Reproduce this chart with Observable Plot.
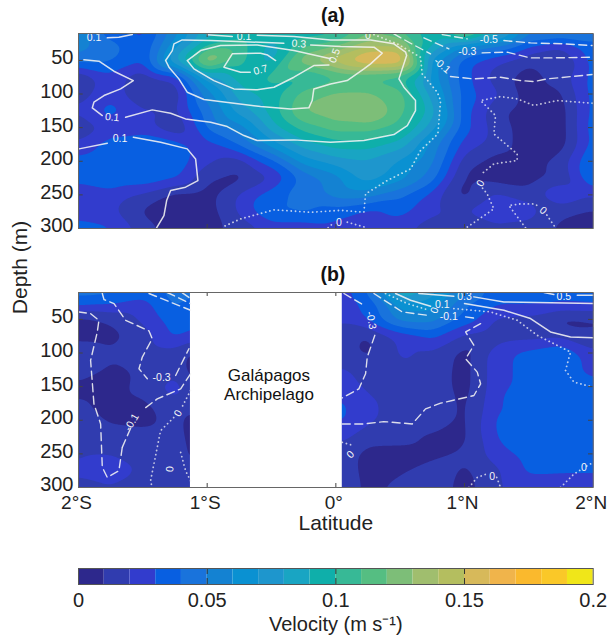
<!DOCTYPE html>
<html>
<head>
<meta charset="utf-8">
<script src="https://cdn.jsdelivr.net/npm/d3@7"></script>
<script src="https://cdn.jsdelivr.net/npm/@observablehq/plot@0.6"></script>
<style>
html,body{margin:0;padding:0;background:#fff;width:607px;overflow:hidden}
svg{display:block;font-family:"Liberation Sans",Arial,sans-serif}
</style>
</head>
<body>
<div id="chart"></div>
<script>
const depths = [10,25,50,75,100,125,150,175,200,225,250,275,300];
const latsA = [-2,-1.75,-1.5,-1.25,-1,-.75,-.5,-.25,0,.25,.5,.75,1,1.25,1.5,1.75,2];
const latsB = [-2,-1.75,-1.5,-1.25,-1.13,.05,.25,.5,.75,1,1.25,1.5,1.75,2];
const latTicks = [-2,-1,0,1,2];
const latLabels = ["2°S","1°S","0°","1°N","2°N"];
const depthTicks = [50,100,150,200,250,300];
const speedTicks = [0,.05,.1,.15,.2];
const gapB = [{x1:-1.13,x2:.05,y1:10,y2:300}];

const speedA = [
[.055,.032,.025,.055,.085,.095,.095,.095,.095,.115,.105,.095,.135,.095,.055,.055,.055],
[.058,.045,.032,.065,.095,.105,.085,.105,.115,.135,.135,.095,.065,.055,.034,.024,.034],
[.045,.042,.032,.085,.138,.105,.085,.13,.15,.168,.168,.065,.034,.022,.012,.008,.034],
[.008,.026,.012,.022,.075,.095,.105,.095,.105,.105,.1,.065,.034,.015,.005,.015,.034],
[.015,.026,.01,.012,.055,.085,.095,.115,.122,.122,.115,.075,.036,.022,.005,.008,.034],
[.022,.036,.022,.018,.045,.075,.095,.122,.128,.134,.115,.085,.034,.012,.005,.005,.034],
[.012,.022,.022,.01,.042,.055,.085,.105,.115,.115,.105,.075,.034,.015,.005,.005,.036],
[.022,.036,.042,.036,.026,.042,.065,.085,.095,.095,.085,.055,.026,.015,.005,.005,.034],
[.034,.038,.038,.038,.022,.015,.036,.065,.075,.078,.068,.052,.015,.006,.005,.015,.042],
[.034,.038,.038,.032,.012,.006,.018,.042,.055,.075,.065,.045,.008,.005,.005,.012,.042],
[.022,.026,.018,.006,.006,.022,.036,.045,.055,.055,.042,.026,.006,.022,.015,.032,.022],
[.026,.022,.008,.005,.005,.022,.042,.042,.034,.026,.034,.022,.022,.032,.026,.012,.008],
[.034,.032,.016,.005,.005,.015,.022,.022,.026,.022,.022,.015,.005,.015,.015,.008,.006]
];
const speedB = [
[.044,.044,.036,.045,.044,.026,.044,.095,.075,.055,.036,.036,.032,.036],
[.036,.032,.026,.042,.036,.026,.032,.065,.065,.042,.032,.032,.032,.032],
[.006,.012,.022,.036,.036,.022,.032,.055,.055,.036,.018,.016,.006,.008],
[.006,.006,.015,.032,.026,.014,.008,.022,.032,.018,.014,.015,.017,.012],
[.018,.012,.015,.015,.008,.012,.008,.022,.018,.006,.026,.034,.041,.022],
[.018,.008,.012,.016,.006,.022,.016,.018,.016,.006,.026,.034,.034,.026],
[.006,.005,.014,.026,.012,.024,.018,.015,.016,.006,.026,.034,.034,.034],
[.012,.006,.008,.016,.015,.032,.022,.016,.016,.008,.028,.041,.034,.034],
[.016,.008,.006,.014,.006,.032,.022,.016,.016,.008,.032,.034,.034,.034],
[.018,.016,.015,.016,.006,.022,.015,.014,.008,.008,.031,.034,.034,.034],
[.018,.018,.018,.017,.008,.016,.006,.006,.006,.012,.026,.034,.034,.034],
[.022,.032,.018,.012,.016,.016,.006,.008,.016,.008,.018,.032,.032,.032],
[.017,.017,.007,.016,.016,.018,.007,.014,.016,.006,.018,.024,.022,.022]
];
const levels = d3.range(0,.2,.01).map(d=>+d.toFixed(2));
const palette = ["#2d288c","#303cAf","#323ccd","#085fe1","#1973dc","#1482d2","#0a91d2","#1e96cd","#19a5c3","#0fafaa",
"#37b996","#55be82","#7dbe78","#a0be6e","#b4be5f","#d7b95a","#f0b44b","#fab92d","#fac828","#f0e619"];

const a01top = [[-.999,12],[-.805,14.5]];
const a01outer = [[-.611,12.5],[-.326,14.5],[-.041,19.5],[.27,19.5],[.451,25.4],[.542,37.8],[.55,42.8],[.49,77.5],[.529,89.9],[.619,109.7],[.619,124.6],[.555,146.9],[.451,160.3],[.218,169.2],[-.041,171.7],[-.326,168.2],[-.611,169.2],[-.714,161.8],[-.844,148.4],[-.973,142],[-1.168,137],[-1.284,128.5],[-1.427,123.6],[-1.634,134.5]];
const a01left = [[-1.815,132],[-1.893,120.6],[-1.88,112.2],[-1.802,102.3],[-1.673,92.4],[-1.574,80],[-1.725,66.1],[-1.841,51.2],[-1.958,49.2]];
const a01corner = [[-1.776,16.5],[-1.686,15.5],[-1.582,11.6]];
const a01lowL = [[-1.996,181.6],[-1.776,173.2]];
const a01lowR = [[-1.574,164.2],[-1.362,171.7],[-1.155,181.6],[-1.09,196.5],[-1.072,228.7],[-1.168,238.6],[-1.284,243.5],[-1.315,258.4],[-1.336,280.7],[-1.393,299]];
const a03 = [[-.196,27],[.037,29.4],[.296,30.4],[.36,39.3],[.27,55.2],[.218,62.6],[.088,80],[-.041,85],[-.171,92.4],[-.184,109.7],[-.21,120.6],[-.352,122.1],[-.585,118.6],[-.792,113.7],[-1.025,108.2],[-1.155,97.3],[-1.22,77.5],[-1.297,60.1],[-1.323,50.2],[-1.271,35.4],[-1.258,25.4],[-1.194,19.5],[-.973,20.5],[-.818,21.5],[-.404,24.5]];
const a05 = [[-.054,57],[-.171,57.7],[-.326,75],[-.481,89.9],[-.611,93.8],[-.792,92.4],[-.948,80],[-1.103,62.6],[-1.155,50.2],[-1.051,35.4],[-.896,27.9],[-.611,27],[-.326,35.4],[-.041,47.7]];
const a07 = [[-.468,50.2],[-.53,42],[-.585,39.3],[-.805,40.3],[-.87,60.1],[-.74,67.6],[-.665,67.6]];
const aZero1 = [[.296,11.6],[.477,25.4],[.658,45.3],[.671,70],[.788,97.3],[.814,109.7],[.793,159.3],[.658,184],[.581,211.3],[.399,228.7],[.231,248.5],[.218,275.8],[.037,273],[-.196,275.8],[-.481,272.3],[-.74,285.7],[-.883,298]];
const aZero2 = [[-.06,299],[-.02,292]];
const aZero3 = [[.089,290.6],[.244,299]];
const aZero4 = [[1.992,113.7],[1.72,109.7],[1.539,117],[1.409,107.2],[1.28,103.8],[1.125,109.7],[1.241,132],[1.228,159.3],[1.409,189],[1.409,199],[1.228,203.9],[1.125,220]];
const aZero5 = [[1.14,240],[1.176,248.5],[1.228,270.8],[1.021,298]];
const aZero6 = [[1.474,299],[1.345,265.9],[1.435,263.4],[1.539,263.4],[1.59,268]];
const aZero7 = [[1.64,280],[1.707,299]];
const aNeg1a = [[.451,10.6],[.581,24.5],[.736,40.3]];
const aNeg1b = [[.891,74],[1.073,77.5],[1.28,75],[1.435,80],[1.539,81.5],[1.643,77.5],[1.992,71]];
const aNeg3a = [[.684,16.5],[.878,32.9]];
const aNeg3b = [[1.137,38.8],[1.332,37.8],[1.513,46.3],[1.668,46.3],[1.992,45.3]];
const aNeg5a = [[.827,11.6],[1.021,18]];
const aNeg5b = [[1.306,20.5],[1.513,24],[1.772,25.4],[1.992,27.9]];

const bLeft1 = [[-1.815,11.5],[-1.802,20.5],[-1.724,26.5],[-1.634,51.3],[-1.452,67.2],[-1.427,78.7],[-1.504,106],[-1.53,123.4],[-1.465,138.3]];
const bLeft2 = [[-1.245,133.4],[-1.142,93.6]];
const bLeft3 = [[-1.129,130.9],[-1.206,153.3],[-1.388,168.2],[-1.491,183.1]];
const bLeft4 = [[-1.66,240.3],[-1.686,275.1],[-1.776,285],[-1.815,270.1],[-1.828,205.5],[-1.88,175.6],[-1.906,111],[-1.854,68.7],[-1.841,51.3],[-1.906,41.4],[-1.996,38.9]];
const bLeft5 = [[-1.595,212],[-1.66,240.3]];
const bTop1 = [[-1.452,11.5],[-1.129,36.4]];
const bTop2 = [[-1.31,10],[-1.129,26.5]];
const bTop3 = [[-1.193,10.5],[-1.129,19]];
const bZero1 = [[-1.129,155.7],[-1.2,182]];
const bZero2 = [[-1.26,196],[-1.362,215.4],[-1.388,240.3],[-1.44,290],[-1.427,300]];
const bZero3 = [[-1.206,247.8],[-1.168,275.1],[-1.129,290]];
const bRight1 = [[.063,11.5],[.218,29]];
const bRight2 = [[.303,73.7],[.244,106],[.231,130.9],[.179,153.3],[.05,166.7]];
const bRight3 = [[.05,205.5],[.218,205.5],[.373,202],[.594,205.5],[.697,183.1],[.814,174.6],[1.073,163.2],[1.125,145.8],[1.099,128.4],[1.008,108.5],[1.073,88.6],[1.008,68.7],[1.125,56.3]];
const bRight4 = [[.296,11.5],[.516,38.9],[.71,43.9]];
const bRight5 = [[1.008,46.3],[1.099,48.8]];
const bRightZero1 = [[.386,11.5],[.555,26.5],[.72,36]];
const bRightZero2 = [[.917,33.9],[1.202,38.9],[1.409,51.3],[1.565,73.7],[1.824,98.6],[1.785,125.9],[1.85,143.3],[2,150.8]];
const bRightZero3 = [[.05,232.8],[.14,237.8]];
const bRightZero4 = [[1.034,300],[1.099,285],[1.17,280]];
const bRightZero5 = [[1.25,285],[1.28,300]];
const bRightZero6 = [[1.746,300],[1.85,280],[1.9,274]];
const bRightZero7 = [[1.95,268],[2,262.7]];
const bPos1 = [[.464,11.5],[.581,21.5],[.736,30.4]];
const bPos2 = [[.645,11.5],[.917,15.5]];
const bPos3 = [[1.073,16.5],[1.306,24],[2,26.5]];
const bPos4 = [[1.0,26.5],[1.306,36.4],[1.513,48.8],[1.668,68.7],[1.824,76.2],[2,77.2]];
const bPos5 = [[1.617,10],[1.694,13]];
const bPos6 = [[1.876,14],[2,14]];

const lineGroups = [
 ["a","solid",[a01top,a01outer,a01left,a01corner,a01lowL,a01lowR,a03,a05,a07]],
 ["a","dash",[aNeg1a,aNeg1b,aNeg3a,aNeg3b,aNeg5a,aNeg5b]],
 ["a","dot",[aZero1,aZero2,aZero3,aZero4,aZero5,aZero6,aZero7]],
 ["b","solid",[bPos1,bPos2,bPos3,bPos4,bPos5,bPos6]],
 ["b","dash",[bLeft1,bLeft2,bLeft3,bLeft4,bLeft5,bTop1,bTop2,bTop3,bRight1,bRight2,bRight3,bRight4,bRight5]],
 ["b","dot",[bZero1,bZero2,bZero3,bRightZero1,bRightZero2,bRightZero3,bRightZero4,bRightZero5,bRightZero6,bRightZero7]]
];
const contourLabels = [
 ["a","0.1",-1.88,16.5,0],["a","0.1",-.714,14.5,0],["a","0.3",-.287,25.4,5],["a","0.5",-.01,43,-70],["a","0.7",-.585,64,-15],
 ["a","0.1",-1.738,134.5,5],["a","0.1",-1.678,167,0],["a","-0.5",1.189,19,0],["a","-0.3",1.021,36.8,0],["a","-0.1",.827,57.7,40],
 ["a","0",1.125,232.6,-60],["a","0",1.611,273.3,40],["a","0",.024,290.6,0],["a","0",.25,13,0],
 ["b","-0.3",-1.354,135.9,0],["b","-0.1",-1.587,203,-60],["b","0",-1.227,189.6,-60],["b","0",-1.29,272.6,-85],
 ["b","-0.3",.275,51.3,80],["b","0.1",.827,27.4,0],["b","0",.767,36.4,-70],["b","-0.1",.878,45.3,0],["b","0.3",1.0,15.5,0],
 ["b","0.5",1.772,15.5,0],["b","0",.114,251,-45],["b","0",1.215,284,0],["b","0",1.927,271,0]
];
const placeNames = [["Galápagos",-.52,133],["Archipelago",-.52,162]];

const grid = (panel,lats,rows)=>rows.flatMap((r,i)=>r.map((v,j)=>({panel,lat:lats[j],depth:depths[i],v})));
const field = [...grid("a",latsA,speedA),...grid("b",latsB,speedB)];
let id=0;
const lines = lineGroups.flatMap(([panel,style,ls])=>ls.flatMap(l=>{id++;const k=id;return l.map(([lat,depth])=>({panel,style,id:k,lat,depth}));}));
const styled = (s)=>lines.filter(d=>d.style===s);
const lineOpts = {x:"lat",y:"depth",z:"id",fy:"panel",stroke:"#f4f4f4",strokeOpacity:.88,curve:"linear"};
const fmtLat = d=>latLabels[latTicks.indexOf(d)];
const tickColor="#444";

const main = Plot.plot({
  width:607,height:546,marginTop:33,marginBottom:59,marginLeft:78,marginRight:14.3,
  style:{background:"#fff",overflow:"visible",fontFamily:"'Liberation Sans',Arial,sans-serif"},
  x:{domain:[-2,2]},
  y:{domain:[10,300],reverse:true},
  fy:{domain:["a","b"],axis:null,paddingInner:64/259,paddingOuter:0,round:false,label:null},
  color:{type:"threshold",domain:levels.slice(1),range:palette},
  marks:[
    Plot.contour(field,{x:"lat",y:"depth",fy:"panel",fill:"v",thresholds:levels,interpolate:"barycentric",pixelSize:1,blur:5,stroke:"none"}),
    Plot.rect(gapB,{x1:"x1",x2:"x2",y1:"y1",y2:"y2",fy:()=>"b",fill:"white"}),
    Plot.line(styled("solid"),{...lineOpts,strokeWidth:1.5}),
    Plot.line(styled("dash"),{...lineOpts,strokeWidth:1.4,strokeDasharray:"8,4.5"}),
    Plot.line(styled("dot"),{...lineOpts,strokeWidth:1.8,strokeDasharray:"0.1,4.2",strokeLinecap:"round",strokeOpacity:.75}),
    Plot.text(contourLabels,{x:d=>d[2],y:d=>d[3],fy:d=>d[0],text:d=>d[1],rotate:d=>d[4],fill:"#f6f6f6",fontSize:10.5}),
    Plot.ruleX(latTicks.slice(1,4),{x:d=>d,insetTop:191,stroke:tickColor}),
    Plot.ruleX(latTicks.slice(1,4),{x:d=>d,insetBottom:191,stroke:tickColor}),
    Plot.ruleY(depthTicks.slice(0,5),{y:d=>d,insetRight:510,stroke:tickColor}),
    Plot.ruleY(depthTicks.slice(0,5),{y:d=>d,insetLeft:510,stroke:tickColor}),
    Plot.frame({stroke:"#666"}),
    Plot.axisX(latTicks,{tickSize:0,tickPadding:8,dx:-2,tickFormat:fmtLat,label:null,fontSize:19,fill:"#222"}),
    Plot.axisY(depthTicks,{tickSize:0,tickPadding:5,dy:-2.5,label:null,fontSize:20,fill:"#222"}),
    Plot.text(["(a)"],{fy:()=>"a",frameAnchor:"top",dy:-18,dx:-3,lineAnchor:"middle",fontSize:19.5,fontWeight:"bold",fill:"#111",text:d=>d}),
    Plot.text(["(b)"],{fy:()=>"b",frameAnchor:"top",dy:-18,dx:-3,lineAnchor:"middle",fontSize:19.5,fontWeight:"bold",fill:"#111",text:d=>d}),
    Plot.text(["Latitude"],{fy:()=>"b",frameAnchor:"bottom",dy:36,lineAnchor:"middle",fontSize:21,fill:"#222",text:d=>d}),
    Plot.text(["Depth (m)"],{fy:()=>"b",frameAnchor:"top-left",dx:-58,dy:-25,rotate:-90,textAnchor:"middle",lineAnchor:"middle",fontSize:21,fill:"#222",text:d=>d}),
    Plot.text(placeNames,{x:d=>d[1],y:d=>d[2],fy:()=>"b",text:d=>d[0],fontSize:17,fill:"#111"})
  ]
});
const bar = Plot.plot({
  width:607,height:93,marginTop:22,marginBottom:55,marginLeft:78,marginRight:14.3,
  style:{background:"#fff",overflow:"visible",fontFamily:"'Liberation Sans',Arial,sans-serif"},
  x:{domain:[0,.2]},
  y:{axis:null,domain:[0,1]},
  marks:[
    Plot.rect(levels,{x1:d=>d,x2:d=>d+.01,y1:0,y2:1,fill:(d,i)=>palette[i]}),
    Plot.ruleX(speedTicks.slice(1,4),{x:d=>d,insetBottom:10,stroke:"#333"}),
    Plot.ruleX(speedTicks.slice(1,4),{x:d=>d,insetTop:10,stroke:"#333"}),
    Plot.frame({stroke:"#555"}),
    Plot.axisX(speedTicks,{tickSize:0,tickPadding:8,label:null,fontSize:20,fill:"#222",tickFormat:d=>String(d)}),
    Plot.text(["Velocity (m s⁻¹)"],{frameAnchor:"bottom",dy:40,lineAnchor:"middle",fontSize:20,fill:"#222",text:d=>d})
  ]
});
document.getElementById("chart").append(main,bar);
</script>
</body>
</html>
